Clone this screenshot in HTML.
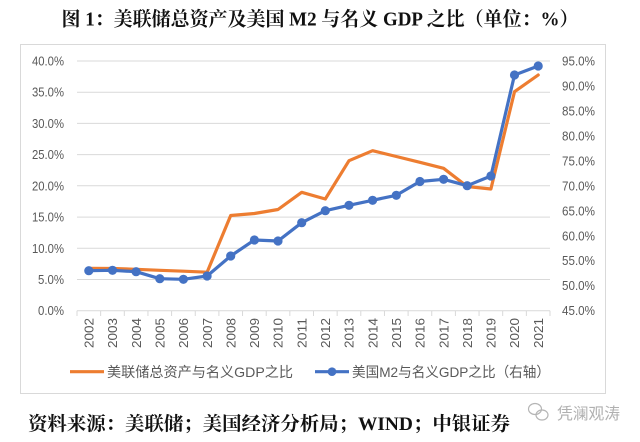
<!DOCTYPE html>
<html>
<head>
<meta charset="utf-8">
<style>
html,body{margin:0;padding:0;background:#fff;}
svg{display:block;}
</style>
</head>
<body>
<svg width="640" height="442" viewBox="0 0 640 442" xmlns="http://www.w3.org/2000/svg">
<rect x="0" y="0" width="640" height="442" fill="#fff"/>
<!-- Title -->
<text x="61.5" y="25.5" font-family="'Liberation Serif','Noto Serif CJK SC',serif" font-weight="bold" font-size="19.5" fill="#111" textLength="517" lengthAdjust="spacingAndGlyphs">图 1：美联储总资产及美国 M2 与名义 GDP 之比（单位：%）</text>

<!-- chart box -->
<rect x="20.5" y="44.5" width="585" height="349" fill="#fff" stroke="#D9D9D9" stroke-width="1"/>

<!-- gridlines -->
<g stroke="#D9D9D9" stroke-width="1">
<line x1="77" y1="61" x2="550" y2="61"/>
<line x1="77" y1="92.2" x2="550" y2="92.2"/>
<line x1="77" y1="123.4" x2="550" y2="123.4"/>
<line x1="77" y1="154.6" x2="550" y2="154.6"/>
<line x1="77" y1="185.8" x2="550" y2="185.8"/>
<line x1="77" y1="217.1" x2="550" y2="217.1"/>
<line x1="77" y1="248.3" x2="550" y2="248.3"/>
<line x1="77" y1="279.5" x2="550" y2="279.5"/>
<line x1="77" y1="310.7" x2="550" y2="310.7"/>
</g>
<!-- x ticks -->
<g stroke="#D9D9D9" stroke-width="1">
<line x1="77" y1="310.7" x2="77" y2="316"/>
<line x1="100.65" y1="310.7" x2="100.65" y2="316"/>
<line x1="124.3" y1="310.7" x2="124.3" y2="316"/>
<line x1="147.95" y1="310.7" x2="147.95" y2="316"/>
<line x1="171.6" y1="310.7" x2="171.6" y2="316"/>
<line x1="195.25" y1="310.7" x2="195.25" y2="316"/>
<line x1="218.9" y1="310.7" x2="218.9" y2="316"/>
<line x1="242.55" y1="310.7" x2="242.55" y2="316"/>
<line x1="266.2" y1="310.7" x2="266.2" y2="316"/>
<line x1="289.85" y1="310.7" x2="289.85" y2="316"/>
<line x1="313.5" y1="310.7" x2="313.5" y2="316"/>
<line x1="337.15" y1="310.7" x2="337.15" y2="316"/>
<line x1="360.8" y1="310.7" x2="360.8" y2="316"/>
<line x1="384.45" y1="310.7" x2="384.45" y2="316"/>
<line x1="408.1" y1="310.7" x2="408.1" y2="316"/>
<line x1="431.75" y1="310.7" x2="431.75" y2="316"/>
<line x1="455.4" y1="310.7" x2="455.4" y2="316"/>
<line x1="479.05" y1="310.7" x2="479.05" y2="316"/>
<line x1="502.7" y1="310.7" x2="502.7" y2="316"/>
<line x1="526.35" y1="310.7" x2="526.35" y2="316"/>
<line x1="550" y1="310.7" x2="550" y2="316"/>
</g>

<!-- left axis labels -->
<g font-family="'Liberation Sans',sans-serif" font-size="12.5" fill="#595959" text-anchor="end">
<text x="64" y="65.5" textLength="32" lengthAdjust="spacingAndGlyphs">40.0%</text>
<text x="64" y="96.7" textLength="32" lengthAdjust="spacingAndGlyphs">35.0%</text>
<text x="64" y="127.9" textLength="32" lengthAdjust="spacingAndGlyphs">30.0%</text>
<text x="64" y="159.1" textLength="32" lengthAdjust="spacingAndGlyphs">25.0%</text>
<text x="64" y="190.3" textLength="32" lengthAdjust="spacingAndGlyphs">20.0%</text>
<text x="64" y="221.6" textLength="32" lengthAdjust="spacingAndGlyphs">15.0%</text>
<text x="64" y="252.8" textLength="32" lengthAdjust="spacingAndGlyphs">10.0%</text>
<text x="64" y="284" textLength="26" lengthAdjust="spacingAndGlyphs">5.0%</text>
<text x="64" y="315.2" textLength="26" lengthAdjust="spacingAndGlyphs">0.0%</text>
</g>
<!-- right axis labels -->
<g font-family="'Liberation Sans',sans-serif" font-size="12.5" fill="#595959" text-anchor="start">
<text x="562" y="65.5" textLength="33" lengthAdjust="spacingAndGlyphs">95.0%</text>
<text x="562" y="90.5" textLength="33" lengthAdjust="spacingAndGlyphs">90.0%</text>
<text x="562" y="115.4" textLength="33" lengthAdjust="spacingAndGlyphs">85.0%</text>
<text x="562" y="140.4" textLength="33" lengthAdjust="spacingAndGlyphs">80.0%</text>
<text x="562" y="165.4" textLength="33" lengthAdjust="spacingAndGlyphs">75.0%</text>
<text x="562" y="190.3" textLength="33" lengthAdjust="spacingAndGlyphs">70.0%</text>
<text x="562" y="215.3" textLength="33" lengthAdjust="spacingAndGlyphs">65.0%</text>
<text x="562" y="240.3" textLength="33" lengthAdjust="spacingAndGlyphs">60.0%</text>
<text x="562" y="265.2" textLength="33" lengthAdjust="spacingAndGlyphs">55.0%</text>
<text x="562" y="290.2" textLength="33" lengthAdjust="spacingAndGlyphs">50.0%</text>
<text x="562" y="315.2" textLength="33" lengthAdjust="spacingAndGlyphs">45.0%</text>
</g>

<!-- year labels -->
<g font-family="'Liberation Sans',sans-serif" font-size="13" fill="#595959" text-anchor="end">
<text transform="translate(93.5,318) rotate(-90)" textLength="30" lengthAdjust="spacingAndGlyphs">2002</text>
<text transform="translate(117.2,318) rotate(-90)" textLength="30" lengthAdjust="spacingAndGlyphs">2003</text>
<text transform="translate(140.8,318) rotate(-90)" textLength="30" lengthAdjust="spacingAndGlyphs">2004</text>
<text transform="translate(164.5,318) rotate(-90)" textLength="30" lengthAdjust="spacingAndGlyphs">2005</text>
<text transform="translate(188.1,318) rotate(-90)" textLength="30" lengthAdjust="spacingAndGlyphs">2006</text>
<text transform="translate(211.8,318) rotate(-90)" textLength="30" lengthAdjust="spacingAndGlyphs">2007</text>
<text transform="translate(235.4,318) rotate(-90)" textLength="30" lengthAdjust="spacingAndGlyphs">2008</text>
<text transform="translate(259.1,318) rotate(-90)" textLength="30" lengthAdjust="spacingAndGlyphs">2009</text>
<text transform="translate(282.7,318) rotate(-90)" textLength="30" lengthAdjust="spacingAndGlyphs">2010</text>
<text transform="translate(306.4,318) rotate(-90)" textLength="30" lengthAdjust="spacingAndGlyphs">2011</text>
<text transform="translate(330,318) rotate(-90)" textLength="30" lengthAdjust="spacingAndGlyphs">2012</text>
<text transform="translate(353.7,318) rotate(-90)" textLength="30" lengthAdjust="spacingAndGlyphs">2013</text>
<text transform="translate(377.3,318) rotate(-90)" textLength="30" lengthAdjust="spacingAndGlyphs">2014</text>
<text transform="translate(401,318) rotate(-90)" textLength="30" lengthAdjust="spacingAndGlyphs">2015</text>
<text transform="translate(424.6,318) rotate(-90)" textLength="30" lengthAdjust="spacingAndGlyphs">2016</text>
<text transform="translate(448.3,318) rotate(-90)" textLength="30" lengthAdjust="spacingAndGlyphs">2017</text>
<text transform="translate(471.9,318) rotate(-90)" textLength="30" lengthAdjust="spacingAndGlyphs">2018</text>
<text transform="translate(495.6,318) rotate(-90)" textLength="30" lengthAdjust="spacingAndGlyphs">2019</text>
<text transform="translate(519.2,318) rotate(-90)" textLength="30" lengthAdjust="spacingAndGlyphs">2020</text>
<text transform="translate(542.9,318) rotate(-90)" textLength="30" lengthAdjust="spacingAndGlyphs">2021</text>
</g>

<!-- orange series -->
<polyline fill="none" stroke="#ED7D31" stroke-width="3.2" stroke-linejoin="round" stroke-linecap="round"
points="88.8,268.3 112.5,268.5 136.1,269.3 159.8,270.3 183.4,271.2 207.1,272.2 230.7,215.5 254.4,213.5 278,209.5 301.7,192.3 325.3,199 349,160.7 372.6,150.7 396.3,156.5 419.9,162.3 443.6,168.3 467.2,186.5 490.9,189 514.5,91.7 538.2,75"/>

<!-- blue series -->
<polyline fill="none" stroke="#4472C4" stroke-width="3.2" stroke-linejoin="round" stroke-linecap="round"
points="88.8,270.7 112.5,270.3 136.1,271.7 159.8,278.7 183.4,279.3 207.1,276 230.7,256 254.4,240 278,241 301.7,222.7 325.3,210.7 349,205.3 372.6,200.3 396.3,195.3 419.9,181.5 443.6,179.3 467.2,185.7 490.9,176 514.5,75 538.2,66"/>
<g fill="#4472C4">
<circle cx="88.8" cy="270.7" r="4.6"/>
<circle cx="112.5" cy="270.3" r="4.6"/>
<circle cx="136.1" cy="271.7" r="4.6"/>
<circle cx="159.8" cy="278.7" r="4.6"/>
<circle cx="183.4" cy="279.3" r="4.6"/>
<circle cx="207.1" cy="276" r="4.6"/>
<circle cx="230.7" cy="256" r="4.6"/>
<circle cx="254.4" cy="240" r="4.6"/>
<circle cx="278" cy="241" r="4.6"/>
<circle cx="301.7" cy="222.7" r="4.6"/>
<circle cx="325.3" cy="210.7" r="4.6"/>
<circle cx="349" cy="205.3" r="4.6"/>
<circle cx="372.6" cy="200.3" r="4.6"/>
<circle cx="396.3" cy="195.3" r="4.6"/>
<circle cx="419.9" cy="181.5" r="4.6"/>
<circle cx="443.6" cy="179.3" r="4.6"/>
<circle cx="467.2" cy="185.7" r="4.6"/>
<circle cx="490.9" cy="176" r="4.6"/>
<circle cx="514.5" cy="75" r="4.6"/>
<circle cx="538.2" cy="66" r="4.6"/>
</g>

<!-- legend -->
<line x1="70" y1="371.7" x2="104" y2="371.7" stroke="#ED7D31" stroke-width="3.2"/>
<text x="107" y="377" font-family="'Liberation Sans','Noto Sans CJK SC',sans-serif" font-size="14" fill="#595959" textLength="186" lengthAdjust="spacingAndGlyphs">美联储总资产与名义GDP之比</text>
<line x1="315" y1="371.7" x2="349" y2="371.7" stroke="#4472C4" stroke-width="3.2"/>
<circle cx="332" cy="371.7" r="4.3" fill="#4472C4"/>
<text x="352" y="377" font-family="'Liberation Sans','Noto Sans CJK SC',sans-serif" font-size="14" fill="#595959" textLength="198" lengthAdjust="spacingAndGlyphs">美国M2与名义GDP之比（右轴）</text>

<!-- footer -->
<text x="28" y="430" font-family="'Liberation Serif','Noto Serif CJK SC',serif" font-weight="bold" font-size="19" fill="#111" textLength="482" lengthAdjust="spacingAndGlyphs">资料来源：美联储；美国经济分析局；WIND；中银证券</text>

<!-- watermark -->
<g fill="none" stroke="#b5b5b5" stroke-width="1.2">
<ellipse cx="535" cy="409" rx="6.5" ry="5.5"/>
<ellipse cx="542" cy="415" rx="6" ry="5"/>
</g>
<text x="557" y="419" font-family="'Liberation Sans','Noto Sans CJK SC',sans-serif" font-size="16" fill="#b0b0b0" textLength="63" lengthAdjust="spacingAndGlyphs">凭澜观涛</text>
</svg>
</body>
</html>
